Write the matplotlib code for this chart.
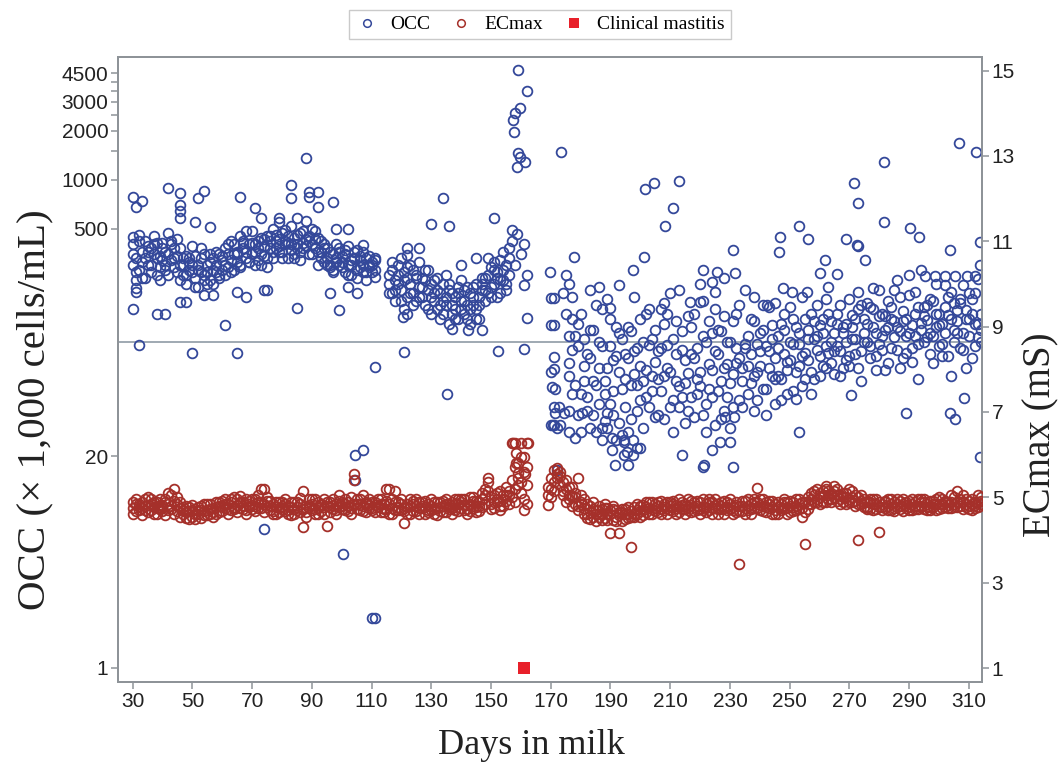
import numpy as np
import matplotlib
matplotlib.use('Agg')
import matplotlib.pyplot as plt
from matplotlib.lines import Line2D
from matplotlib.ticker import FixedLocator, NullLocator

# ---------------- data ----------------
# OCC (x 1,000 cells/mL): three readings per day, consecutive days from the start day
occ_a_start = 30
occ_a1 = [400, 330, 280, 360, 420, 300, 380, 450, 330, 290, 410, 360, 470, 320, 380, 430,
          300, 260, 340, 280, 390, 250, 300, 270, 350, 230, 310, 280, 360, 260, 320, 380,
          290, 420, 350, 310, 450, 380, 330, 400, 480, 360, 420, 300, 390, 450, 380, 500,
          420, 360, 470, 400, 330, 520, 440, 380, 470, 410, 560, 450, 400, 480, 360, 420,
          310, 380, 290, 350, 400, 300, 340, 270, 390, 320, 360, 280, 340, 300, 330, 290,
          310, 280]
occ_a2 = [300, 240, 460, 250, 330, 390, 270, 350, 410, 240, 320, 280, 350, 420, 290, 340,
          380, 330, 230, 310, 270, 340, 220, 380, 260, 300, 240, 330, 270, 350, 280, 300,
          350, 270, 400, 350, 290, 410, 480, 310, 350, 400, 320, 440, 340, 290, 450, 330,
          380, 430, 330, 490, 410, 370, 350, 460, 320, 380, 430, 350, 500, 380, 440, 330,
          380, 300, 360, 270, 310, 380, 290, 350, 300, 260, 330, 370, 290, 360, 270, 340,
          300, 320]
occ_a3 = [350, 270, 420, 310, 250, 360, 300, 400, 260, 340, 380, 300, 260, 400, 330, 270,
          240, 300, 260, 330, 300, 220, 280, 330, 240, 270, 350, 230, 300, 250, 340, 260,
          400, 320, 280, 360, 300, 420, 360, 310, 410, 300, 380, 350, 430, 330, 420, 360,
          460, 390, 360, 420, 450, 400, 330, 400, 360, 480, 390, 420, 350, 430, 300, 360,
          400, 330, 300, 280, 330, 360, 310, 370, 260, 300, 330, 250, 320, 270, 240, 300,
          270, 330]
occ_b_start = 116
occ_b1 = [260, 200, 240, 300, 210, 270, 190, 230, 280, 180, 220, 250, 170, 210, 190, 240,
          160, 200, 230, 170, 210, 150, 190, 220, 160, 180, 140, 200, 170, 230, 190, 210,
          250, 200, 290, 230, 270, 320, 240, 300, 260]
occ_b2 = [200, 280, 180, 230, 330, 160, 250, 300, 200, 260, 310, 190, 240, 280, 150, 200,
          250, 140, 180, 260, 130, 200, 160, 140, 240, 210, 170, 130, 220, 160, 140, 250,
          180, 330, 220, 280, 190, 240, 360, 210, 330]
occ_b3 = [230, 310, 210, 260, 180, 240, 290, 200, 170, 250, 190, 220, 280, 160, 230, 180,
          210, 170, 150, 190, 230, 170, 140, 200, 180, 150, 220, 160, 190, 140, 170, 230,
          210, 260, 190, 310, 250, 200, 280, 230, 380]
occ_c_start = 176
occ_c1 = [75, 48, 110, 36, 150, 58, 85, 30, 120, 55, 42, 95, 33, 70, 140, 50, 25, 66, 105, 40,
          80, 55, 190, 38, 72, 100, 46, 160, 62, 35, 88, 50, 130, 70, 40, 105, 58, 210, 46, 78,
          65, 125, 35, 92, 54, 180, 42, 74, 115, 31, 85, 58, 145, 46, 100, 40, 75, 170, 58, 98,
          48, 85, 135, 66, 115, 52, 95, 165, 62, 80, 110, 60, 150, 76, 100, 50, 125, 72, 190, 86,
          120, 66, 105, 170, 82, 140, 95, 220, 75, 115, 150, 88, 125, 78, 185, 105, 140, 70, 170, 115,
          100, 165, 125, 82, 210, 110, 145, 180, 92, 135, 240, 118, 155, 86, 195, 128, 110, 165, 280, 100,
          138, 185, 110, 230, 128, 82, 165, 148, 205, 120, 158, 92, 225, 140, 110, 185, 130, 245, 100]
occ_c2 = [38, 140, 55, 95, 28, 72, 46, 120, 36, 170, 100, 30, 58, 185, 42, 78, 125, 32, 52, 85,
          28, 118, 64, 92, 44, 58, 150, 40, 105, 76, 36, 160, 62, 96, 200, 44, 85, 54, 118, 32,
          145, 46, 80, 60, 230, 36, 100, 52, 68, 160, 50, 118, 38, 74, 56, 135, 92, 44, 70, 210,
          110, 56, 38, 98, 72, 170, 52, 88, 128, 42, 62, 130, 85, 48, 165, 98, 66, 115, 54, 140,
          78, 150, 60, 110, 128, 72, 185, 86, 135, 64, 95, 170, 70, 130, 82, 148, 105, 205, 88, 140,
          175, 80, 215, 115, 98, 150, 68, 125, 165, 108, 90, 190, 80, 140, 115, 76, 205, 98, 132, 165,
          108, 85, 180, 125, 150, 98, 225, 82, 140, 175, 115, 185, 90, 158, 140, 80, 200, 108, 150]
occ_c3 = [62, 90, 26, 130, 48, 105, 38, 80, 58, 28, 70, 160, 48, 30, 95, 36, 82, 115, 27, 60,
          125, 34, 88, 55, 140, 30, 68, 96, 50, 120, 60, 92, 34, 150, 66, 28, 135, 40, 90, 56,
          38, 85, 150, 48, 66, 110, 28, 135, 46, 88, 120, 34, 70, 100, 30, 64, 150, 80, 40, 92,
          72, 140, 62, 44, 88, 120, 36, 70, 105, 60, 92, 44, 120, 68, 78, 140, 45, 98, 82, 60,
          105, 48, 135, 90, 62, 115, 70, 150, 100, 88, 130, 62, 115, 100, 72, 125, 85, 160, 58, 100,
          130, 95, 160, 68, 145, 90, 120, 75, 140, 210, 125, 70, 135, 110, 260, 92, 150, 60, 120, 145,
          170, 115, 75, 150, 95, 130, 115, 190, 62, 100, 135, 175, 115, 70, 200, 150, 95, 130, 120]
# individual OCC readings (day, value)
occ_extra_days = [30, 33, 31, 42, 46, 46, 46, 46, 52, 54, 66, 71, 73, 30, 51, 56, 31, 31, 30, 38,
                  41, 61, 32, 50, 65, 46, 48, 54, 57, 65, 68, 74, 88, 83, 83, 89, 92, 89, 92, 97,
                  79, 79, 85, 98, 102, 107, 111, 75, 85, 96, 99, 105, 102, 111, 104.5, 107, 104.5, 74, 100.6, 110,
                  111,
                  120.7, 122, 122, 120.4, 122, 134, 130, 136, 151, 157, 158.6, 161, 137, 142.4, 147, 162, 161, 152.5, 161,
                  135.2, 159, 162, 159.7, 158, 157.5, 157.7, 159, 159.7, 161.4, 158.6, 158, 160, 157, 162, 126, 140, 145,
                  169.6, 170, 171, 170, 171, 171, 170, 171, 170.5, 171.5, 171, 171.5, 170, 171, 172, 172.6, 174.3, 170.9,
                  173.1, 176, 173.6, 172, 174, 175, 176, 177.8, 175, 176, 177,
                  201.6, 204.7, 212.8, 211.1, 208.1, 197.5, 201.1, 221, 183, 186, 193, 190.5, 194.4, 195.5, 198.8, 191.6,
                  196, 213.9, 221.2, 190, 208, 216.6, 220, 225.7, 224, 225, 187, 190.5, 194.4, 197.7, 194.4, 197.7,
                  199.9, 180.4, 188.9,
                  271.6, 272.8, 253, 246.6, 246.3, 256.3, 231, 269, 272.9, 275.3, 261.9, 260.2, 265.8, 231.8, 227.9,
                  247.8, 250.8, 255.8, 238, 245.2, 242.4, 270.5, 253, 231, 226.8, 230, 228.4, 231.2, 221, 224,
                  306.6, 312.5, 281.5, 281.5, 290.2, 293.2, 313.6, 303.8, 272.6, 295.4, 298.8, 302.1, 305.5, 309.4, 312.2,
                  288.8, 303.8, 305.5, 308.3, 313.6, 313.6]
occ_extra_vals = [785, 739, 682, 891, 824, 700, 640, 580, 770, 850, 785, 670, 580, 445, 550, 510, 215, 205, 160, 150,
                  150, 128, 96, 86.5, 86.5, 178, 178, 195, 195, 204, 190, 210, 1352, 930, 770, 840, 840, 785, 683, 733,
                  580, 550, 580, 500, 500, 395, 253, 210, 163, 200, 158, 200, 220, 70.3, 20.3, 21.8, 14.3, 7.1, 5.0, 2.02,
                  2.02,
                  87.7, 380, 345, 143, 150, 770, 530, 520, 585, 490, 465, 405, 121, 119, 119, 141, 226, 88.5, 90.5,
                  48.5, 4710, 3500, 2750, 2550, 2320, 1970, 1450, 1380, 1280, 1200, 300, 350, 420, 260, 380, 300, 330,
                  270, 187, 187, 128, 128, 81.6, 66, 69, 53, 52, 40, 36.6, 31, 31, 29.6, 40, 36.6, 31,
                  31, 28.3, 1480, 16.4, 200, 150, 110, 333, 260, 230, 190,
                  880, 950, 975, 670, 520, 280, 333, 280, 210, 220, 226, 25.8, 24.5, 21.3, 22.4, 17.7,
                  17.7, 20.3, 17.7, 163, 175, 177, 177, 270, 235, 205, 25, 21.8, 25, 25, 20.3, 20.3,
                  22.4, 36.6, 36.6,
                  950, 715, 520, 445, 360, 430, 369, 430, 390, 320, 320, 265, 262, 265, 250,
                  215, 203, 203, 190, 175, 170, 47.6, 28.3, 17.2, 24.5, 24.5, 35, 35, 17.2, 21.8,
                  1690, 1470, 1290, 550, 505, 445, 415, 370, 395, 255, 255, 255, 255, 255, 255,
                  36.6, 36.6, 34, 45.3, 19.9, 300]

# ECmax (mS): three readings per day
ec_a_start = 30
ec_a1 = [4.75, 4.85, 4.70, 4.90, 4.80, 4.65, 4.95, 4.78, 4.88, 4.72,
         4.82, 4.95, 4.70, 5.05, 5.20, 4.85, 4.75, 4.60, 4.80, 4.68,
         4.55, 4.72, 4.62, 4.80, 4.58, 4.70, 4.85, 4.65, 4.78, 4.90,
         4.80, 4.95, 4.72, 4.88, 5.00, 4.82, 4.75, 4.90, 4.70, 4.85,
         4.95, 4.80, 5.05, 4.88, 5.20, 4.78, 4.70, 4.85, 4.62, 4.75,
         4.90, 4.68, 4.80, 4.58, 4.72, 4.88, 4.65, 5.15, 4.55, 4.82,
         4.70, 4.95, 4.60, 4.85, 4.78, 4.32, 4.90, 4.72, 4.85, 5.05,
         4.80, 4.95, 4.68, 5.00, 5.55, 4.85, 4.70, 5.05, 4.90, 4.75,
         4.88, 4.65, 4.80, 4.95, 4.72, 5.20, 4.85, 4.60, 5.15, 4.78,
         4.70, 4.40, 4.85, 4.95, 4.68, 4.80, 4.90, 4.75, 4.62, 4.85,
         4.95, 4.72, 4.58, 4.88, 4.80, 4.65, 4.78, 4.90, 4.70, 4.85,
         4.75, 4.95, 4.62, 4.85, 5.00, 4.78, 4.90, 5.10, 5.20, 5.45,
         4.85, 5.05, 4.95, 5.15, 4.80, 5.25, 5.05, 5.40, 6.27, 5.80,
         6.27, 5.95, 6.27]
ec_a2 = [4.90, 4.68, 4.85, 4.75, 4.95, 4.82, 4.70, 4.88, 4.62, 4.95,
         4.75, 4.88, 5.10, 4.80, 4.92, 4.68, 4.55, 4.78, 4.65, 4.50,
         4.70, 4.62, 4.78, 4.52, 4.68, 4.85, 4.60, 4.75, 4.62, 4.80,
         4.92, 4.75, 4.85, 4.70, 4.78, 4.95, 4.88, 4.72, 4.95, 4.78,
         4.82, 4.95, 4.75, 5.20, 4.85, 4.92, 4.80, 4.68, 4.78, 4.90,
         4.72, 4.85, 4.62, 4.78, 4.90, 4.70, 4.85, 4.31, 4.75, 4.95,
         4.85, 4.72, 4.90, 4.68, 4.95, 4.80, 4.65, 4.82, 4.70, 4.92,
         4.72, 4.85, 4.90, 4.75, 5.40, 4.95, 4.82, 4.68, 4.85, 4.95,
         4.70, 4.90, 4.78, 4.85, 4.65, 4.92, 5.20, 4.75, 4.88, 4.70,
         4.85, 4.75, 4.62, 4.80, 4.92, 4.68, 4.75, 4.88, 4.78, 4.70,
         4.80, 4.88, 4.75, 4.68, 4.92, 4.85, 4.72, 4.62, 4.85, 4.95,
         4.88, 4.70, 4.82, 5.00, 4.75, 4.92, 4.68, 4.95, 4.85, 5.35,
         5.00, 4.75, 4.90, 4.80, 5.05, 4.92, 5.15, 6.27, 5.70, 5.57,
         5.95, 5.60, 5.30]
ec_a3 = [4.62, 4.95, 4.80, 4.58, 4.70, 5.00, 4.85, 4.60, 4.75, 4.82,
         4.68, 4.58, 4.85, 4.72, 4.62, 5.00, 4.88, 4.70, 4.52, 4.78,
         4.82, 4.50, 4.68, 4.70, 4.85, 4.58, 4.72, 4.55, 4.88, 4.65,
         4.68, 4.85, 4.60, 4.95, 4.72, 4.65, 5.02, 4.80, 4.62, 4.92,
         4.72, 4.68, 4.88, 4.75, 4.65, 5.00, 4.92, 4.60, 4.88, 4.65,
         4.80, 4.95, 4.70, 4.88, 4.62, 4.78, 4.98, 4.72, 4.65, 4.78,
         4.95, 4.62, 4.75, 4.82, 4.60, 4.90, 4.78, 4.95, 4.62, 4.78,
         4.90, 4.70, 4.80, 4.62, 4.85, 4.72, 4.95, 4.80, 4.65, 4.82,
         4.75, 4.82, 4.95, 4.65, 4.85, 4.72, 4.62, 4.95, 4.70, 4.90,
         4.95, 4.68, 4.78, 4.62, 4.85, 4.95, 4.62, 4.80, 4.92, 4.65,
         4.70, 4.62, 4.90, 4.78, 4.65, 4.95, 4.85, 4.75, 4.95, 4.68,
         4.95, 4.82, 4.72, 4.68, 4.92, 4.65, 4.80, 4.78, 5.05, 5.15,
         4.72, 4.90, 5.10, 4.70, 4.95, 5.05, 4.85, 5.00, 5.20, 5.45,
         5.35, 4.95, 5.70]
ec_b_start = 169
ec_b1 = [4.82, 5.45, 5.64, 5.68, 5.50, 5.35, 5.20, 5.05, 5.25, 5.10,
         5.45, 4.90, 4.75, 4.60, 4.80, 4.55, 4.70, 4.62, 4.48, 4.75,
         4.60, 4.16, 4.72, 4.55, 4.16, 4.65, 4.50, 4.78, 3.84, 4.62,
         4.70, 4.55, 4.82, 4.65, 4.75, 4.90, 4.68, 4.80, 4.72, 4.85,
         4.75, 4.90, 4.68, 4.82, 4.95, 4.72, 4.85, 4.78, 4.65, 4.90,
         4.80, 4.72, 4.95, 4.85, 4.70, 4.88, 4.75, 4.62, 4.80, 4.92,
         4.70, 4.85, 4.78, 4.65, 3.43, 4.80, 4.92, 4.70, 4.85, 4.75,
         5.21, 4.82, 4.68, 4.90, 4.75, 4.62, 4.85, 4.78, 4.70, 4.88,
         4.75, 4.65, 4.90, 4.80, 4.72, 4.55, 3.90, 4.85, 4.95, 5.05,
         4.88, 5.00, 5.15, 5.27, 4.95, 5.10, 5.27, 4.92, 5.05, 4.88,
         5.00, 5.20, 4.90, 5.05, 4.00, 4.85, 4.95, 4.78, 4.88, 4.70,
         4.85, 4.19, 4.78, 4.92, 4.70, 4.85, 4.75, 4.95, 4.80, 4.68,
         4.90, 4.78, 4.85, 4.72, 4.95, 4.80, 4.88, 4.70, 4.92, 4.78,
         4.85, 5.00, 4.75, 4.90, 4.82, 5.05, 4.78, 5.15, 4.88, 4.72,
         4.95, 4.80, 4.70, 4.90, 5.05, 4.85]
ec_b2 = [5.05, 5.20, 5.35, 5.45, 5.60, 5.15, 5.40, 4.95, 5.00, 4.85,
         4.80, 5.05, 4.62, 4.85, 4.50, 4.72, 4.45, 4.80, 4.60, 4.52,
         4.75, 4.62, 4.48, 4.70, 4.58, 4.45, 4.72, 4.60, 4.55, 4.78,
         4.62, 4.80, 4.70, 4.88, 4.60, 4.72, 4.85, 4.65, 4.92, 4.70,
         4.88, 4.70, 4.85, 4.62, 4.78, 4.90, 4.72, 4.95, 4.82, 4.68,
         4.70, 4.90, 4.78, 4.65, 4.88, 4.75, 4.95, 4.85, 4.72, 4.60,
         4.88, 4.72, 4.62, 4.90, 4.80, 4.68, 4.75, 4.95, 4.62, 4.88,
         4.90, 4.70, 4.95, 4.78, 4.85, 4.92, 4.70, 4.62, 4.85, 4.75,
         4.88, 4.80, 4.68, 4.95, 4.85, 4.75, 4.90, 4.72, 5.10, 4.90,
         5.20, 4.85, 5.05, 4.90, 5.15, 4.95, 5.00, 5.20, 4.85, 5.10,
         4.85, 4.95, 5.15, 4.80, 5.00, 4.92, 4.78, 4.90, 4.72, 4.95,
         4.72, 4.90, 4.85, 4.75, 4.95, 4.70, 4.88, 4.78, 4.92, 4.85,
         4.75, 4.92, 4.70, 4.88, 4.80, 4.95, 4.72, 4.85, 4.78, 4.92,
         4.70, 4.85, 4.95, 4.78, 4.88, 4.75, 5.00, 4.90, 4.80, 5.05,
         4.78, 4.92, 4.85, 4.75, 4.88, 5.00]
ec_b3 = [5.25, 5.00, 5.15, 5.55, 5.30, 5.05, 4.90, 5.25, 4.80, 5.00,
         4.70, 4.85, 4.95, 4.52, 4.65, 4.90, 4.60, 4.55, 4.72, 4.85,
         4.48, 4.70, 4.80, 4.45, 4.65, 4.72, 4.60, 4.52, 4.68, 4.55,
         4.85, 4.68, 4.58, 4.78, 4.90, 4.62, 4.75, 4.88, 4.60, 4.78,
         4.62, 4.80, 4.92, 4.75, 4.65, 4.82, 4.60, 4.70, 4.92, 4.78,
         4.92, 4.62, 4.70, 4.78, 4.95, 4.62, 4.82, 4.72, 4.90, 4.75,
         4.78, 4.95, 4.70, 4.82, 4.68, 4.92, 4.62, 4.80, 4.72, 4.95,
         4.75, 4.95, 4.80, 4.65, 4.92, 4.78, 4.62, 4.88, 4.75, 4.95,
         4.62, 4.92, 4.78, 4.70, 4.95, 4.88, 4.65, 5.00, 4.85, 5.15,
         4.95, 5.10, 4.88, 5.20, 5.05, 4.88, 5.15, 5.05, 4.95, 5.00,
         5.10, 4.88, 5.00, 4.92, 4.85, 5.05, 4.88, 4.72, 4.95, 4.85,
         4.95, 4.78, 4.70, 4.88, 4.80, 4.95, 4.68, 4.85, 4.72, 4.95,
         4.82, 4.70, 4.95, 4.80, 4.72, 4.88, 4.95, 4.78, 4.70, 4.85,
         4.95, 4.72, 4.85, 4.92, 4.75, 4.90, 4.85, 4.78, 4.95, 4.88,
         4.85, 4.72, 4.95, 4.82, 4.78, 4.92]
ec_extra_days = [158, 160, 161, 159, 162, 161.5, 158.5, 158.5, 157.5, 162.5]
ec_extra_vals = [4.90, 5.10, 4.70, 5.30, 4.85, 5.55, 6.03, 5.80, 6.27, 6.27]

mastitis_day = [161]
mastitis_val = [1]

occ_ticks = [1, 20, 500, 1000, 1500, 2000, 2500, 3000, 3500, 4000, 4500]
occ_ticklabels = ['1', '20', '500', '1000', '', '2000', '', '3000', '', '', '4500']
occ_threshold = 100
ec_ticks = [1, 3, 5, 7, 9, 11, 13, 15]
day_ticks = list(range(30, 311, 20))

# ---------------- assemble ----------------
def seq(start, vals):
    return np.arange(start, start + len(vals))

occ_days = np.concatenate([seq(occ_a_start, occ_a1), seq(occ_a_start, occ_a2), seq(occ_a_start, occ_a3),
                           seq(occ_b_start, occ_b1), seq(occ_b_start, occ_b2), seq(occ_b_start, occ_b3),
                           seq(occ_c_start, occ_c1), seq(occ_c_start, occ_c2), seq(occ_c_start, occ_c3),
                           np.array(occ_extra_days)])
occ_vals = np.concatenate([occ_a1, occ_a2, occ_a3, occ_b1, occ_b2, occ_b3,
                           occ_c1, occ_c2, occ_c3, occ_extra_vals])
ec_days = np.concatenate([seq(ec_a_start, ec_a1), seq(ec_a_start, ec_a2), seq(ec_a_start, ec_a3),
                          seq(ec_b_start, ec_b1), seq(ec_b_start, ec_b2), seq(ec_b_start, ec_b3),
                          np.array(ec_extra_days)])
ec_vals = np.concatenate([ec_a1, ec_a2, ec_a3, ec_b1, ec_b2, ec_b3, ec_extra_vals])

# ---------------- styling ----------------
BLUE = '#34489A'
RED = '#A5302A'
SQ = '#E8202A'
GRAY = '#8E9398'
TXT = '#222222'
SANS = 'Liberation Sans'
SERIF = 'Liberation Serif'

W, H = 1063, 769
fig = plt.figure(figsize=(W / 100, H / 100), dpi=100)
L, R, T, B = 118, 982, 57, 682
ax = fig.add_axes([L / W, (H - B) / H, (R - L) / W, (B - T) / H])
ax2 = ax.twinx()

ax.set_yscale('log')
ax.set_xlim(25.1, 314.4)
ax.set_ylim(0.820, 5664)
ax2.set_ylim(0.672, 15.319)

ax.axhline(occ_threshold, color='#97A3AD', lw=1.3, zorder=1)

mk = dict(linestyle='none', marker='o', markersize=7.0, markerfacecolor='none', markeredgewidth=1.3)
ax.plot(occ_days, occ_vals, markeredgecolor=BLUE, zorder=3, **mk)
ax2.plot(ec_days, ec_vals, markeredgecolor=RED, zorder=3, **mk)
ax2.plot(mastitis_day, mastitis_val, linestyle='none', marker='s', markersize=8.2,
         color=SQ, markeredgewidth=0, zorder=4)

ax.xaxis.set_major_locator(FixedLocator(day_ticks))
ax.yaxis.set_major_locator(FixedLocator(occ_ticks))
ax.yaxis.set_minor_locator(NullLocator())
ax.set_yticklabels(occ_ticklabels)
ax2.yaxis.set_major_locator(FixedLocator(ec_ticks))

for a in (ax, ax2):
    for s in a.spines.values():
        s.set_color(GRAY)
        s.set_linewidth(1.3)
    a.tick_params(direction='out', length=5, width=1.1, color=GRAY, labelcolor=TXT, labelsize=15, pad=2)
    for lab in a.get_xticklabels() + a.get_yticklabels():
        lab.set_fontfamily(SANS)

ax.set_xlabel('Days in milk', fontfamily=SERIF, fontsize=26, color=TXT)
ax.xaxis.set_label_coords((531 - L) / (R - L), (H - 745 - (H - B)) / (B - T))
ax.xaxis.label.set_va('center')
ax.set_ylabel('OCC (\u00d7 1,000 cells/mL)', fontfamily=SERIF, fontsize=29.5, color=TXT)
ax.yaxis.set_label_coords((35 - L) / (R - L), (H - 410 - (H - B)) / (B - T))
ax.yaxis.label.set_va('center')
ax2.set_ylabel('ECmax (mS)', fontfamily=SERIF, fontsize=28, color=TXT, rotation=90)
ax2.yaxis.set_label_coords((1041 - L) / (R - L), (H - 435 - (H - B)) / (B - T))
ax2.yaxis.label.set_va('center')
ax2.yaxis.label.set_ha('center')

handles = [Line2D([], [], linestyle='none', marker='o', markersize=5.5, markerfacecolor='none',
                  markeredgecolor=BLUE, markeredgewidth=1.1),
           Line2D([], [], linestyle='none', marker='o', markersize=5.5, markerfacecolor='none',
                  markeredgecolor=RED, markeredgewidth=1.1),
           Line2D([], [], linestyle='none', marker='s', markersize=7, color=SQ, markeredgewidth=0)]
leg = fig.legend(handles, ['OCC', 'ECmax', 'Clinical mastitis'], loc='upper center',
                 bbox_to_anchor=(540 / W, 1 - 10 / H), ncol=3, frameon=True, fancybox=False,
                 edgecolor='#BDBDBD', prop={'family': SERIF, 'size': 14}, handletextpad=0.6,
                 columnspacing=1.0, borderpad=0.3, handlelength=1.2, borderaxespad=0)
leg.get_frame().set_linewidth(1.0)

fig.savefig('out.png', dpi=100)
